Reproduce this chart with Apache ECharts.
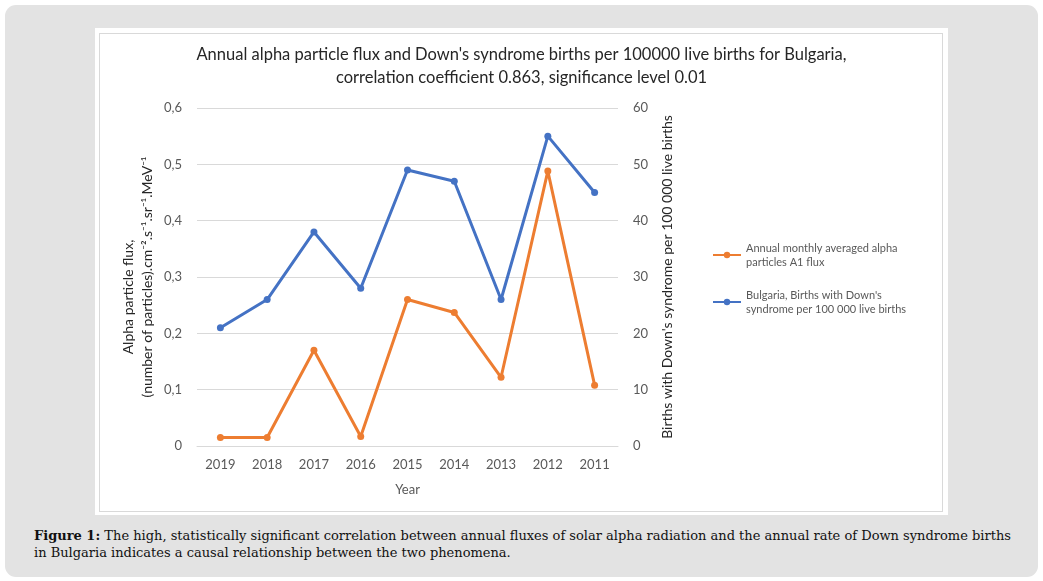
<!DOCTYPE html>
<html>
<head>
    <meta http-equiv="Content-Type" content="text/html; charset=utf-8"/>
    <title>Alpha flux and Down's syndrome births</title>
    <script src="https://cdn.jsdelivr.net/npm/echarts@6/dist/echarts.min.js"></script>
    <style>
        body { margin: 0; background: #fff; }
        #frame { position: absolute; left: 5px; top: 5px; width: 1033px; height: 572px;
                 background: #e3e3e3; border-radius: 11px; }
        #panel { position: absolute; left: 95px; top: 28px; width: 853px; height: 487px; background: #fff; }
        #border { position: absolute; left: 99px; top: 33px; width: 842px; height: 477px;
                  border: 1px solid #d9d9d9; }
        #main { position: absolute; left: 0; top: 0; width: 1043px; height: 581px; }
        #caption { position: absolute; left: 34px; top: 527px; white-space: nowrap;
                   font-family: "DejaVu Serif", serif; font-size: 13px; line-height: 17px; color: #111; }
    </style>
</head>
<body>
<div id="frame"></div>
<div id="panel"></div>
<div id="border"></div>
<div id="caption">
    <b>Figure 1:</b> The high, statistically significant correlation between annual fluxes of solar alpha radiation and the annual rate of Down syndrome births<br/>
    in Bulgaria indicates a causal relationship between the two phenomena.
</div>
<div id="main"></div>
<script type="text/javascript">
    // 数据
    var years = ['2019', '2018', '2017', '2016', '2015', '2014', '2013', '2012', '2011'];
    var alphaFlux = [0.015, 0.015, 0.17, 0.017, 0.26, 0.237, 0.122, 0.488, 0.108];
    var downBirths = [21, 26, 38, 28, 49, 47, 26, 55, 45];
    var nameAlpha = 'Annual monthly averaged alpha\nparticles A1 flux';
    var nameDown = "Bulgaria, Births with Down's\nsyndrome per 100 000 live births";

    var font = 'Lato, "Open Sans", sans-serif';
    var grey = '#595959';

    var myChart = echarts.init(document.getElementById('main'));
    myChart.setOption({
        animation: false,
        textStyle: { fontFamily: font },
        title: {
            text: "Annual alpha particle flux and Down's syndrome births per 100000 live births for Bulgaria,\ncorrelation coefficient 0.863, significance level 0.01",
            left: 'center',
            top: 43,
            padding: 0,
            textStyle: { fontFamily: font, fontSize: 16.5, fontWeight: 'normal', color: '#262626', lineHeight: 23 }
        },
        legend: {
            orient: 'vertical',
            left: 712,
            top: 234,
            padding: 0,
            itemGap: 5,
            itemWidth: 28,
            itemHeight: 8,
            itemTextGap: 2,
            data: [nameAlpha, nameDown],
            textStyle: { fontFamily: font, fontSize: 11, color: grey, lineHeight: 14, padding: [14, 0, 0, 0] }
        },
        grid: { left: 197, right: 425, top: 108, bottom: 135 },
        xAxis: {
            type: 'category',
            data: years,
            name: 'Year',
            nameLocation: 'middle',
            nameGap: 37,
            nameTextStyle: { fontSize: 13, color: grey },
            axisLine: { lineStyle: { color: '#d9d9d9' } },
            axisTick: { show: false },
            axisLabel: { fontSize: 13, color: grey, margin: 12 }
        },
        yAxis: [
            {
                type: 'value',
                min: 0,
                max: 0.6,
                interval: 0.1,
                name: '{a|Alpha particle flux,}\n{b|(number of particles).cm\u207B\u00B2.s\u207B\u00B9.sr\u207B\u00B9.MeV\u207B\u00B9}',
                nameLocation: 'middle',
                nameGap: 40,
                nameTextStyle: {
                    rich: {
                        a: { fontFamily: font, fontSize: 14, color: '#262626', lineHeight: 19, padding: [0, 40, 0, 0] },
                        b: { fontFamily: font, fontSize: 14, color: '#262626', lineHeight: 19 }
                    }
                },
                axisLine: { show: false },
                axisTick: { show: false },
                axisLabel: {
                    fontSize: 13, color: grey, margin: 15,
                    formatter: function (v) { return String(v).replace('.', ','); }
                },
                splitLine: { lineStyle: { color: '#d9d9d9' } }
            },
            {
                type: 'value',
                min: 0,
                max: 60,
                interval: 10,
                name: "Births with Down's syndrome per 100 000 live births",
                nameLocation: 'middle',
                nameGap: 42,
                nameTextStyle: { fontSize: 14, color: '#262626' },
                axisLine: { show: false },
                axisTick: { show: false },
                axisLabel: { fontSize: 13, color: grey, margin: 15 },
                splitLine: { show: false }
            }
        ],
        series: [
            {
                name: nameAlpha,
                type: 'line',
                yAxisIndex: 0,
                data: alphaFlux,
                symbol: 'circle',
                symbolSize: 7,
                itemStyle: { color: '#ED7D31' },
                lineStyle: { color: '#ED7D31', width: 3 }
            },
            {
                name: nameDown,
                type: 'line',
                yAxisIndex: 1,
                data: downBirths,
                symbol: 'circle',
                symbolSize: 7,
                itemStyle: { color: '#4472C4' },
                lineStyle: { color: '#4472C4', width: 3 }
            }
        ]
    });
</script>
</body>
</html>
